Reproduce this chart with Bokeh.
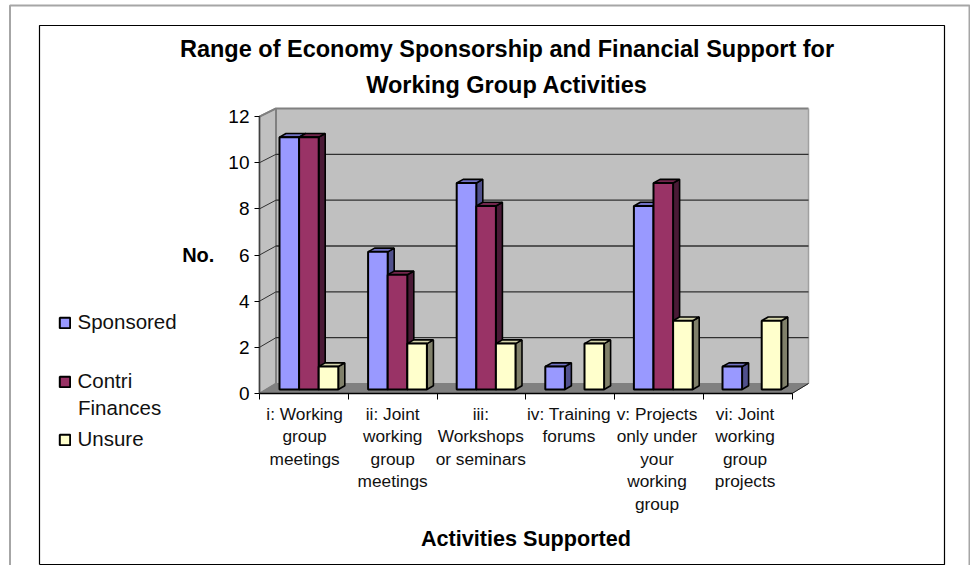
from bokeh.plotting import figure
from bokeh.embed import file_html
from bokeh.resources import INLINE
from bokeh.models import Legend, LegendItem, Label, FixedTicker, Range1d

TITLE = "Range of Economy Sponsorship and Financial Support for\nWorking Group Activities"
CATEGORIES = ["i: Working\ngroup\nmeetings", "ii: Joint\nworking\ngroup\nmeetings", "iii:\nWorkshops\nor seminars",
              "iv: Training\nforums", "v: Projects\nonly under\nyour\nworking\ngroup", "vi: Joint\nworking\ngroup\nprojects"]
SPONSORED = [11, 6, 9, 1, 8, 1]
CONTRI = [11, 5, 8, 0, 9, 0]
UNSURE = [1, 2, 2, 2, 3, 3]
SERIES = [("Sponsored", SPONSORED, "#9999FF", "#50508C", "#7272C4"),
          ("Contri", CONTRI, "#993366", "#4A1A36", "#73264D"),
          ("Unsure", UNSURE, "#FFFFCC", "#80806A", "#D6D6AC")]
Y_TICKS = [0, 2, 4, 6, 8, 10, 12]

# canvas layout: the frame fills the page, the origin of the axes sits inside it
W, H = 970, 565
PX_X0, PX_XU = 259.0, 88.75
PX_Y0, PX_YU = 393.0, 23.08

def X(px):
    return (px - PX_X0) / PX_XU

def Y(px):
    return (PX_Y0 - px) / PX_YU

p = figure(width=W, height=H, output_backend="svg", toolbar_location=None,
           x_range=Range1d(X(0), X(W)), y_range=Range1d(Y(H), Y(0)),
           min_border=0, background_fill_color="white", border_fill_color="white", outline_line_color=None)
p.styles = {"position": "absolute", "left": "0", "top": "0"}
p.grid.visible = False

# page frames
p.line([X(9.5), X(9.5), X(969), X(969)], [Y(H + 5), Y(5), Y(5), Y(H + 5)], line_color="#A6A6A6", line_width=2)
p.line([X(39), X(39), X(944), X(944), X(39)], [Y(564), Y(25), Y(25), Y(564), Y(564)], line_color="black", line_width=1.2)

# depth of the box, in data units
WALL_DX = 16.5 / PX_XU
BACK_Y0 = 10.0 / PX_YU
BACK_K = 22.92 / PX_YU
BAR_Y0 = 4.0 / PX_YU
BAR_K = 22.94 / PX_YU
N = len(CATEGORIES)
YMAX = Y_TICKS[-1]

def back(v):
    return BACK_Y0 + BACK_K * v

# walls and floor
p.patch([0, 0, WALL_DX, WALL_DX], [0, YMAX, back(YMAX), back(0)], fill_color="#C0C0C0", line_color="#808080", line_width=1.5)
p.patch([WALL_DX, WALL_DX, N + WALL_DX, N + WALL_DX], [back(0), back(YMAX), back(YMAX), back(0)], fill_color="#C0C0C0", line_color=None)
p.patch([0, WALL_DX, N + WALL_DX, N], [0, back(0), back(0), 0], fill_color="#808080", line_color="#808080")
p.line([WALL_DX, WALL_DX, N + WALL_DX], [back(0), back(YMAX), back(YMAX)], line_color="#808080", line_width=2)
p.line([N + WALL_DX, N + WALL_DX], [back(YMAX), back(0)], line_color="#A0A0A0", line_width=1.5)
p.line([N, N + WALL_DX], [0, back(0)], line_color="#202020", line_width=1)
for v in Y_TICKS[1:-1]:
    p.line([WALL_DX, N + WALL_DX], [back(v), back(v)], line_color="#303030", line_width=1.3)
for v in Y_TICKS[1:-1]:
    p.line([0, WALL_DX], [v, back(v)], line_color="#303030", line_width=1)
p.line([0, WALL_DX], [YMAX, back(YMAX)], line_color="#808080", line_width=2)

# bars
BAR_X0 = 20.0 / PX_XU
BAR_W = 19.6 / PX_XU
DX = 6.5 / PX_XU
DY = 3.7 / PX_YU
GROUP = 88.6 / PX_XU
renderers = {}
for s, (name, vals, col, side, top) in enumerate(SERIES):
    idx = [i for i, v in enumerate(vals) if v > 0]
    lefts = [BAR_X0 + i * GROUP + s * BAR_W for i in idx]
    tops = [BAR_Y0 + BAR_K * vals[i] for i in idx]
    rights = [l + BAR_W for l in lefts]
    p.patches([[r, r + DX, r + DX, r] for r in rights],
              [[BAR_Y0, BAR_Y0 + DY, t + DY, t] for t in tops],
              fill_color=side, line_color="black", line_width=1.6)
    p.patches([[l, l + DX, r + DX, r] for l, r in zip(lefts, rights)],
              [[t, t + DY, t + DY, t] for t in tops],
              fill_color=top, line_color="black", line_width=1.6)
    renderers[name] = p.quad(left=lefts, right=rights, bottom=BAR_Y0, top=tops,
                             fill_color=col, line_color="black", line_width=2)

# axes sit inside the frame at the origin
LABEL_POS = [0.508 + i * 88.1 / PX_XU for i in range(N)]
xa = p.xaxis[0]
xa.fixed_location = 0
xa.ticker = FixedTicker(ticks=LABEL_POS, minor_ticks=list(range(N + 1)))
xa.major_label_overrides = {pos: c for pos, c in zip(LABEL_POS, CATEGORIES)}
xa.major_tick_line_color = None
xa.minor_tick_in = 0
xa.minor_tick_out = 6
xa.minor_tick_line_color = "black"
xa.minor_tick_line_width = 1
xa.axis_line_color = "black"
xa.axis_line_width = 1.5
xa.bounds = (0, N)
xa.major_label_orientation = "horizontal"
xa.major_label_standoff = 4
xa.major_label_text_font = "Liberation Sans"
xa.major_label_text_font_size = "17.3px"
xa.major_label_text_color = "#111111"
xa.major_label_text_line_height = 1.13
xa.axis_label = "Activities Supported"
xa.axis_label_text_font = "Liberation Sans"
xa.axis_label_text_font_size = "21.6px"
xa.axis_label_text_font_style = "bold"
xa.axis_label_text_color = "black"
xa.axis_label_standoff = 9

ya = p.yaxis[0]
ya.fixed_location = 0
ya.ticker = FixedTicker(ticks=Y_TICKS, minor_ticks=[])
ya.bounds = (0, YMAX)
ya.major_tick_in = 0
ya.major_tick_out = 5
ya.major_tick_line_color = "black"
ya.axis_line_color = "#404040"
ya.axis_line_width = 1.5
ya.major_label_standoff = 5
ya.major_label_text_font = "Liberation Sans"
ya.major_label_text_font_size = "19px"
ya.major_label_text_color = "black"
ya.axis_label = "No."
ya.axis_label_orientation = "horizontal"
ya.axis_label_text_font = "Liberation Sans"
ya.axis_label_text_font_size = "20px"
ya.axis_label_text_font_style = "bold"
ya.axis_label_text_color = "black"
ya.axis_label_standoff = 11

# title
p.add_layout(Label(x=X(506.5), y=Y(66.5), text=TITLE, text_align="center", text_baseline="middle",
                   text_font="Liberation Sans", text_font_size="23.5px", text_font_style="bold",
                   text_color="black", text_line_height=1.35))

# legends: one per entry, as they sit unevenly
LEG_X = 57.5
for (name, *_), sy in zip(SERIES, [322, 381, 439]):
    leg = Legend(items=[LegendItem(label=name, renderers=[renderers[name]])],
                 location=(LEG_X, H - sy - 12), orientation="vertical",
                 background_fill_alpha=0, border_line_color=None,
                 glyph_width=13, glyph_height=13, label_standoff=7, padding=0, margin=0,
                 label_text_font="Liberation Sans", label_text_font_size="20.5px", label_text_color="#111111",
                 label_height=14)
    p.add_layout(leg, "center")
p.add_layout(Label(x=X(77.5), y=Y(407), text="Finances", text_baseline="middle",
                   text_font="Liberation Sans", text_font_size="20.5px", text_color="#111111"))

open("out.html", "w").write(file_html(p, INLINE))
